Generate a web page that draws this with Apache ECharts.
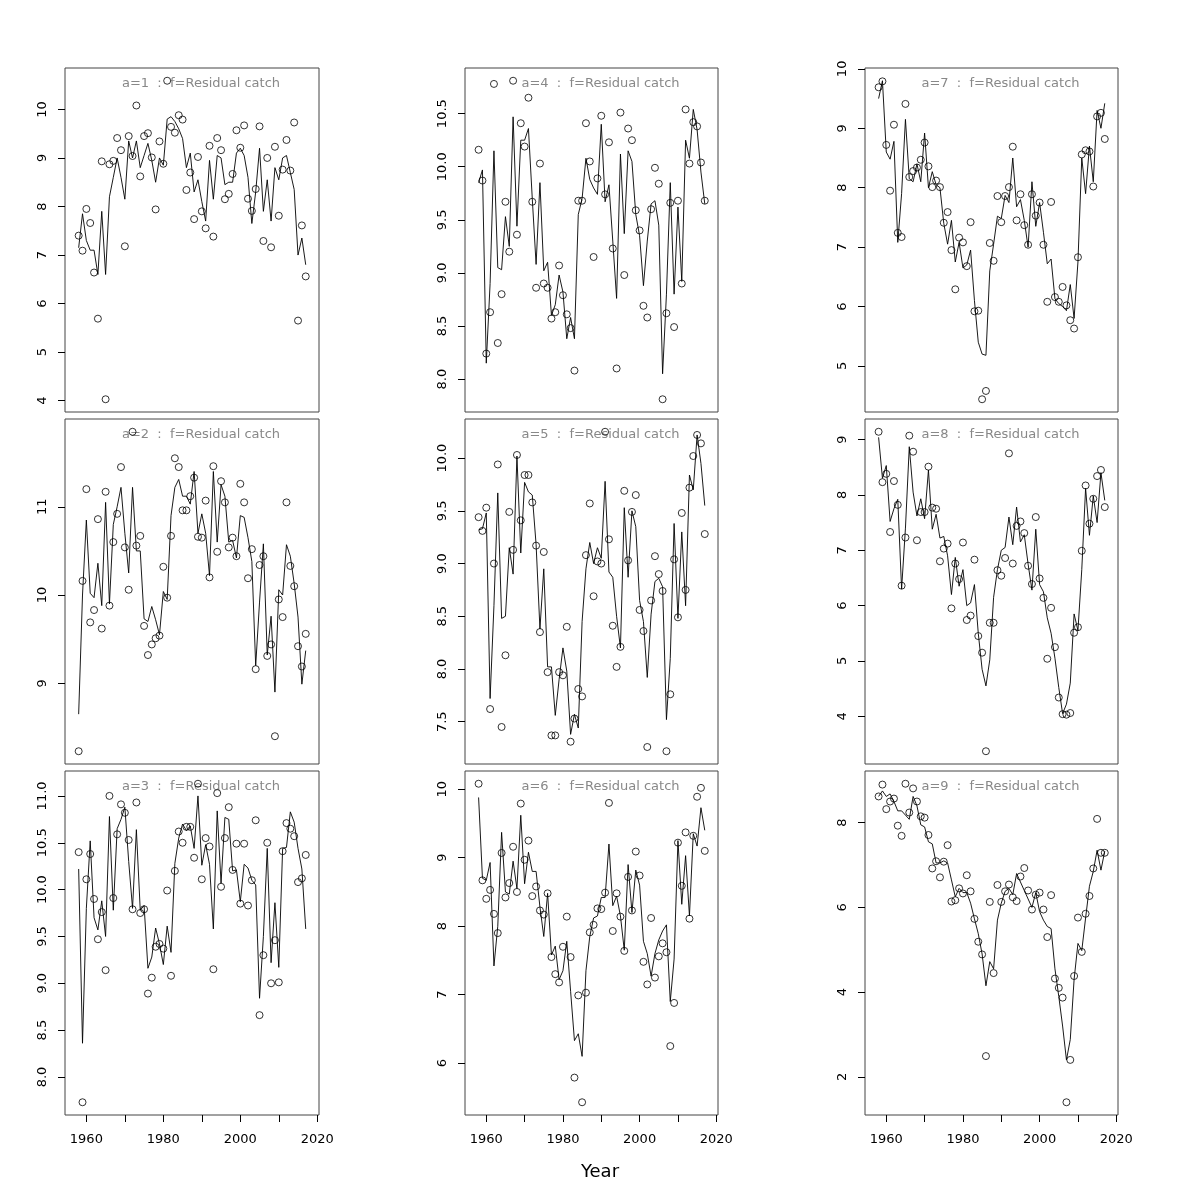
<!DOCTYPE html>
<html><head><meta charset="utf-8">
<script src="https://cdn.jsdelivr.net/npm/echarts@6/dist/echarts.min.js"></script>
<style>html,body{margin:0;padding:0;background:#fff}#c{width:1200px;height:1200px}</style>
</head><body><div id="c"></div>
<script>
const years = [1958,1959,1960,1961,1962,1963,1964,1965,1966,1967,1968,1969,1970,1971,1972,1973,1974,1975,1976,1977,1978,1979,1980,1981,1982,1983,1984,1985,1986,1987,1988,1989,1990,1991,1992,1993,1994,1995,1996,1997,1998,1999,2000,2001,2002,2003,2004,2005,2006,2007,2008,2009,2010,2011,2012,2013,2014,2015,2016,2017];

const obsA1 = [7.40,7.09,7.95,7.66,6.64,5.69,8.93,4.03,8.87,8.94,9.41,9.16,7.18,9.45,9.04,10.08,8.62,9.45,9.51,9.01,7.94,9.34,8.88,10.59,9.64,9.52,9.88,9.79,8.34,8.70,7.74,9.02,7.90,7.55,9.25,7.38,9.41,9.16,8.15,8.26,8.67,9.57,9.21,9.67,8.16,7.91,8.36,9.65,7.29,9.00,7.16,9.23,7.81,8.76,9.37,8.74,9.73,5.65,7.61,6.56];
const fitA1 = [7.15,7.85,7.3,7.1,7.1,6.6,7.9,6.6,8.2,8.6,9.0,8.6,8.15,9.35,9.0,9.35,8.8,9.05,9.3,8.95,8.5,9.0,8.85,9.8,9.85,9.75,9.6,9.4,8.8,9.1,8.3,8.55,8.1,7.7,8.95,8.15,9.05,9.0,8.45,8.5,8.5,9.1,9.2,9.05,8.6,7.65,8.3,9.2,7.9,8.55,7.7,8.8,8.55,9.0,9.05,8.7,8.35,7.0,7.35,6.8];

const obsA2 = [8.23,10.16,11.20,9.69,9.83,10.86,9.62,11.17,9.88,10.60,10.92,11.45,10.54,10.06,11.85,10.56,10.67,9.65,9.32,9.44,9.51,9.54,10.32,9.97,10.67,11.55,11.45,10.96,10.96,11.12,11.33,10.66,10.65,11.07,10.20,11.46,10.49,11.29,11.05,10.54,10.65,10.44,11.26,11.05,10.19,10.52,9.16,10.34,10.44,9.31,9.44,8.40,9.95,9.75,11.05,10.33,10.10,9.42,9.19,9.56];
const fitA2 = [8.65,10.0,10.85,10.02,9.97,10.36,9.88,11.05,9.9,10.8,11.0,11.22,10.7,10.25,11.22,10.5,10.5,9.73,9.7,9.87,9.72,9.55,10.04,9.95,10.9,11.22,11.31,11.12,11.12,11.03,11.4,10.7,10.92,10.7,10.22,11.4,10.6,11.25,11.12,10.6,10.62,10.42,10.9,10.88,10.65,10.38,9.2,9.92,10.58,9.32,9.76,8.9,10.06,10.0,10.57,10.44,10.13,9.75,8.99,9.37];

const obsA3 = [10.40,7.73,10.11,10.38,9.90,9.47,9.76,9.14,11.00,9.91,10.59,10.91,10.82,10.53,9.79,10.93,9.75,9.79,8.89,9.06,9.39,9.42,9.37,9.99,9.08,10.20,10.62,10.50,10.67,10.67,10.34,11.13,10.11,10.55,10.46,9.15,11.03,10.03,10.55,10.88,10.21,10.49,9.85,10.49,9.83,10.10,10.74,8.66,9.30,10.50,9.00,9.46,9.01,10.41,10.71,10.65,10.57,10.08,10.12,10.37];
const fitA3 = [10.22,8.36,9.8,10.52,9.7,9.57,9.88,9.5,10.78,9.78,10.65,10.75,10.88,10.3,9.8,10.64,9.78,9.83,9.16,9.28,9.59,9.42,9.2,9.61,9.33,10.28,10.55,10.7,10.63,10.68,10.44,11.0,10.26,10.48,10.27,9.58,10.84,10.07,10.77,10.75,10.2,10.21,9.87,10.27,10.23,10.1,10.05,8.84,9.5,10.44,9.22,9.86,9.17,10.44,10.45,10.83,10.72,10.44,10.22,9.58];

const obsA4 = [10.16,9.87,8.24,8.63,10.78,8.34,8.80,9.67,9.20,10.81,9.36,10.41,10.19,10.65,9.67,8.86,10.03,8.90,8.86,8.57,8.63,9.07,8.79,8.61,8.48,8.08,9.68,9.68,10.41,10.05,9.15,9.89,10.48,9.74,10.23,9.23,8.10,10.51,8.98,10.36,10.25,9.59,9.40,8.69,8.58,9.60,9.99,9.84,7.81,8.62,9.66,8.49,9.68,8.90,10.54,10.03,10.42,10.38,10.04,9.68];
const fitA4 = [9.85,9.97,8.15,8.9,10.15,9.05,9.03,9.53,9.25,10.47,9.44,10.25,10.25,10.36,9.7,9.08,9.85,9.02,9.1,8.6,8.7,8.98,8.82,8.38,8.58,8.38,9.55,9.7,10.08,9.88,9.8,9.74,10.4,9.67,9.83,9.3,8.76,10.12,9.37,10.15,10.05,9.55,9.35,8.88,9.3,9.65,9.68,9.45,8.05,8.8,9.85,8.8,9.62,8.92,10.25,10.08,10.54,10.35,9.95,9.65];

const obsA5 = [9.44,9.31,9.53,7.62,9.00,9.94,7.45,8.13,9.49,9.13,10.03,9.41,9.84,9.84,9.58,9.17,8.35,9.11,7.97,7.37,7.37,7.97,7.94,8.40,7.31,7.53,7.81,7.74,9.08,9.57,8.69,9.02,9.00,10.25,9.23,8.41,8.02,8.21,9.69,9.03,9.49,9.65,8.56,8.36,7.26,8.65,9.07,8.90,8.74,7.22,7.76,9.04,8.49,9.48,8.75,9.72,10.02,10.22,10.14,9.28];
const fitA5 = [9.32,9.33,9.48,7.72,8.6,9.67,8.48,8.5,9.15,8.9,10.02,9.1,9.77,9.68,9.65,9.18,8.38,8.95,8.02,8.02,7.56,7.9,8.2,7.98,7.38,7.57,7.44,8.45,8.95,9.2,9.0,9.15,9.05,9.78,8.92,8.87,8.5,8.2,9.53,8.87,9.5,9.35,8.65,8.45,7.92,8.52,8.83,8.86,8.78,7.52,8.1,9.38,8.48,9.3,8.6,9.84,9.7,10.22,9.95,9.55];

const obsA6 = [10.08,8.67,8.40,8.53,8.18,7.90,9.07,8.42,8.63,9.16,8.50,9.79,8.97,9.25,8.44,8.58,8.23,8.17,8.48,7.55,7.30,7.18,7.70,8.14,7.55,5.79,6.99,5.43,7.03,7.91,8.02,8.26,8.25,8.49,9.80,7.93,8.48,8.14,7.64,8.72,8.23,9.09,8.74,7.48,7.15,8.12,7.25,7.56,7.75,7.62,6.25,6.88,9.22,8.59,9.37,8.11,9.32,9.89,10.02,9.10];
const fitA6 = [9.88,8.7,8.67,8.93,7.42,8.0,9.37,8.5,8.47,8.95,8.55,9.62,8.62,9.08,8.8,8.8,8.28,7.85,8.48,7.58,7.71,7.22,7.35,7.78,7.05,6.33,6.43,6.1,7.35,7.85,8.12,8.15,8.42,8.42,9.2,8.3,8.44,8.15,7.65,8.9,8.2,8.82,8.6,7.78,7.6,7.27,7.6,7.8,7.93,8.02,6.9,7.52,9.25,8.32,9.03,8.15,9.35,9.17,9.73,9.4];

const obsA7 = [9.69,9.79,8.72,7.95,9.06,7.24,7.17,9.41,8.18,8.28,8.34,8.47,8.76,8.36,8.01,8.12,8.01,7.41,7.59,6.95,6.29,7.16,7.08,6.68,7.42,5.92,5.93,4.44,4.58,7.07,6.77,7.86,7.42,7.86,8.01,8.69,7.45,7.89,7.37,7.04,7.89,7.53,7.75,7.04,6.08,7.76,6.16,6.08,6.33,6.02,5.77,5.63,6.83,8.56,8.63,8.61,8.02,9.20,9.26,8.82];
const fitA7 = [9.5,9.8,8.6,8.48,8.78,7.08,7.9,9.15,8.15,8.1,8.4,8.1,8.92,8.0,8.27,8.05,8.0,7.4,7.05,7.45,6.75,7.08,6.65,6.7,6.95,6.1,5.4,5.2,5.18,6.6,7.05,7.52,7.48,7.87,7.75,8.5,7.68,7.8,7.45,7.0,8.1,7.35,7.75,7.25,6.72,6.8,6.13,6.05,6.0,5.93,6.37,5.8,6.75,8.5,7.9,8.7,8.1,9.3,9.0,9.42];

const obsA8 = [9.14,8.23,8.38,7.33,8.25,7.82,6.36,7.23,9.07,8.78,7.18,7.69,7.69,8.51,7.77,7.75,6.80,7.03,7.12,5.95,6.76,6.48,7.14,5.74,5.82,6.83,5.45,5.15,3.37,5.69,5.69,6.64,6.54,6.86,8.75,6.76,7.44,7.52,7.31,6.72,6.39,7.60,6.49,6.14,5.04,5.96,5.25,4.34,4.04,4.03,4.06,5.51,5.61,6.99,8.17,7.48,7.93,8.34,8.45,7.78];
const fitA8 = [9.04,8.3,8.53,7.52,7.75,7.92,6.3,7.4,8.87,8.05,7.62,7.93,7.57,8.45,7.38,7.65,7.22,7.25,6.9,6.2,6.87,6.35,6.65,6.0,6.05,6.38,5.5,4.85,4.55,5.02,6.15,6.65,7.0,7.05,7.6,7.1,7.78,7.15,7.28,6.75,6.28,7.38,6.38,6.25,5.78,5.5,5.05,4.52,4.05,4.22,4.6,5.85,5.55,6.65,8.12,7.27,7.98,7.5,8.4,7.9];

const obsA9 = [8.62,8.90,8.32,8.50,8.57,7.93,7.69,8.92,8.24,8.81,8.50,8.15,8.12,7.71,6.92,7.09,6.71,7.08,7.47,6.14,6.17,6.45,6.33,6.76,6.38,5.73,5.19,4.89,2.49,6.13,4.45,6.53,6.13,6.38,6.54,6.24,6.15,6.73,6.93,6.40,5.95,6.30,6.35,5.95,5.30,6.29,4.32,4.10,3.87,1.40,2.40,4.38,5.76,4.95,5.85,6.27,6.92,8.09,7.29,7.29];
const fitA9 = [8.62,8.75,8.62,8.68,8.5,8.28,8.28,8.18,8.08,8.62,8.4,7.95,7.9,7.55,7.5,7.05,7.05,7.1,7.05,6.65,6.25,6.45,6.35,6.35,6.1,5.73,5.38,4.9,4.15,4.72,4.55,5.7,6.1,6.38,6.45,6.3,6.8,6.6,6.4,6.2,6.0,6.35,5.9,5.7,5.55,5.5,4.55,3.9,3.2,2.4,2.88,4.3,5.15,4.98,5.75,6.5,6.85,7.35,6.88,7.33];

const ticksA1 = [4,5,6,7,8,9,10];
const ticksA2 = [9,10,11];
const ticksA3 = [8,8.5,9,9.5,10,10.5,11];
const ticksA4 = [8,8.5,9,9.5,10,10.5];
const ticksA5 = [7.5,8,8.5,9,9.5,10];
const ticksA6 = [6,7,8,9,10];
const ticksA7 = [5,6,7,8,9,10];
const ticksA8 = [4,5,6,7,8,9];
const ticksA9 = [2,4,6,8];

const xTicks = [1960,1970,1980,1990,2000,2010,2020];
const xTickLabels = [1960,1980,2000,2020];
const panelLabels = ['a=1','a=2','a=3','a=4','a=5','a=6','a=7','a=8','a=9'];
const subtitle = 'f=Residual catch';

const panels = [
  {obs:obsA1, fit:fitA1, ticks:ticksA1, dec:0},
  {obs:obsA2, fit:fitA2, ticks:ticksA2, dec:0},
  {obs:obsA3, fit:fitA3, ticks:ticksA3, dec:1},
  {obs:obsA4, fit:fitA4, ticks:ticksA4, dec:1},
  {obs:obsA5, fit:fitA5, ticks:ticksA5, dec:1},
  {obs:obsA6, fit:fitA6, ticks:ticksA6, dec:0},
  {obs:obsA7, fit:fitA7, ticks:ticksA7, dec:0},
  {obs:obsA8, fit:fitA8, ticks:ticksA8, dec:0},
  {obs:obsA9, fit:fitA9, ticks:ticksA9, dec:0}
];

const lefts = [65, 465, 865], widths = [254, 253, 253];
const tops = [68, 419, 771], heights = [344, 345, 344];
const FONT = 'DejaVu Sans';

const grids = [], xAxes = [], yAxes = [], series = [], graphics = [];
panels.forEach((p, i) => {
  const col = Math.floor(i / 3), row = i % 3;
  const bottom = row === 2;
  grids.push({left: lefts[col], top: tops[row], width: widths[col], height: heights[row],
    show: true, borderColor: '#444', borderWidth: 1, backgroundColor: 'transparent', containLabel: false});
  const all = p.obs.concat(p.fit);
  const lo = Math.min.apply(null, all), hi = Math.max.apply(null, all);
  const ext = (hi - lo) * 0.04;
  xAxes.push({gridIndex: i, type: 'value', min: 1954.45, max: 2020.45,
    axisLine: {show: false}, splitLine: {show: false},
    axisTick: {show: bottom, customValues: xTicks, length: 7, lineStyle: {color: '#000', width: 1}},
    axisLabel: {show: bottom, customValues: xTickLabels, margin: 18, fontSize: 13, color: '#000', fontFamily: FONT,
      formatter: v => String(Math.round(v))}
  });
  yAxes.push({gridIndex: i, type: 'value', min: lo - ext, max: hi + ext,
    axisLine: {show: false}, splitLine: {show: false},
    axisTick: {show: true, customValues: p.ticks, length: 7, lineStyle: {color: '#000', width: 1}},
    axisLabel: {customValues: p.ticks, rotate: 90, margin: 16, fontSize: 13, color: '#000', fontFamily: FONT,
      formatter: v => Number(v).toFixed(p.dec)}
  });
  series.push({type: 'line', xAxisIndex: i, yAxisIndex: i, silent: true, animation: false,
    symbol: 'none', showSymbol: false,
    lineStyle: {color: '#000', width: 0.9},
    data: years.map((y, k) => [y, p.fit[k]])});
  series.push({type: 'scatter', xAxisIndex: i, yAxisIndex: i, silent: true, animation: false,
    symbol: 'circle', symbolSize: 7,
    itemStyle: {color: 'transparent', borderColor: '#000', borderWidth: 1},
    data: years.map((y, k) => [y, p.obs[k]])});
  graphics.push({type: 'text', x: lefts[col] + widths[col] / 2 + 9, y: tops[row] + 16,
    style: {text: panelLabels[i] + '  :  ' + subtitle, align: 'center', verticalAlign: 'middle',
      fill: '#888888', font: '13px "' + FONT + '"'}});
});
graphics.push({type: 'text', x: 600, y: 1172,
  style: {text: 'Year', align: 'center', verticalAlign: 'middle', fill: '#000', font: '18px "' + FONT + '"'}});

const chart = echarts.init(document.getElementById('c'), null, {renderer: 'canvas'});
chart.setOption({
  animation: false,
  backgroundColor: '#fff',
  grid: grids, xAxis: xAxes, yAxis: yAxes, series: series, graphic: graphics
});
</script></body></html>
